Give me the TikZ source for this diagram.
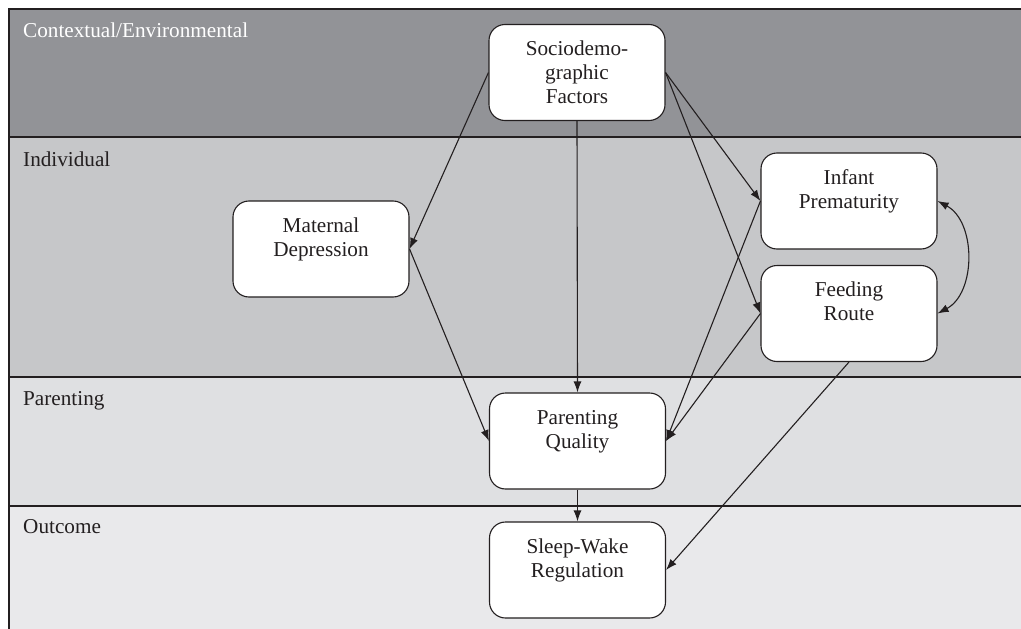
\documentclass[tikz,border=0pt]{standalone}
\usepackage{fontspec}
\setmainfont{Liberation Serif}
\usetikzlibrary{arrows.meta}

\definecolor{inkgray}{RGB}{35,31,32}
\definecolor{bandctx}{RGB}{146,147,151}
\definecolor{bandind}{RGB}{198,199,201}
\definecolor{bandpar}{RGB}{223,224,226}
\definecolor{bandout}{RGB}{233,233,235}

\tikzset{
  factor/.style={draw=inkgray, fill=white, text=inkgray, rounded corners=16pt, line width=1.1pt,
    minimum width=176pt, minimum height=96pt, inner sep=0pt, align=center,
    font=\fontsize{21.2}{24}\selectfont},
  link/.style={draw=inkgray, line width=1.1pt, -{Latex[length=11pt,width=8pt]}},
  bandlabel/.style={anchor=base west, inner sep=0pt, text=inkgray, font=\fontsize{21.2}{24}\selectfont},
  bandline/.style={draw=inkgray, line width=1.1pt}
}

\begin{document}
\begin{tikzpicture}[x=1pt,y=1pt]
\useasboundingbox (0,0) rectangle (1021,-629);
% bands
\fill[bandctx] (9,-9) rectangle (1021,-137);
\fill[bandind] (9,-137) rectangle (1021,-377);
\fill[bandpar] (9,-377) rectangle (1021,-506);
\fill[bandout] (9,-506) rectangle (1021,-629);
\draw[bandline] (1021,-9) -- (9,-9) -- (9,-629);
\draw[bandline] (9,-137) -- (1021,-137);
\draw[bandline] (9,-377) -- (1021,-377);
\draw[bandline] (9,-506) -- (1021,-506);
\node[bandlabel, text=white] (ctxlabel) at (23,-37) {Contextual/Environmental};
\node[bandlabel] (indlabel) at (23,-166) {Individual};
\node[bandlabel] (parlabel) at (23,-405) {Parenting};
\node[bandlabel] (outlabel) at (23,-533) {Outcome};
% factors
\node[factor] (socio) at (577,-72.5) {Sociodemo-\\graphic\\Factors};
\node[factor] (matdep) at (321,-249) {Maternal\\Depression\\~};
\node[factor] (prem) at (849,-201) {Infant\\Prematurity\\~};
\node[factor] (feed) at (849,-313.5) {Feeding\\Route\\~};
\node[factor] (parq) at (577.5,-441) {Parenting\\Quality\\~};
\node[factor] (sleep) at (577.5,-570) {Sleep-Wake\\Regulation\\~};
% paths
\draw[link] (socio.west) -- (matdep.east);
\draw[link] (socio.south) -- (parq.north);
\draw[link] (socio.east) -- (prem.west);
\draw[link] (socio.east) -- (feed.west);
\draw[link] (matdep.east) -- (parq.west);
\draw[link] (prem.west) -- (parq.east);
\draw[link] (feed.west) -- (parq.east);
\draw[link] (feed.south) -- (sleep.east);
\draw[link] (parq.south) -- (sleep.north);
\draw[link, {Latex[length=11pt,width=8pt]}-{Latex[length=11pt,width=8pt]}] (prem.east) to[bend left=62] (feed.east);
\end{tikzpicture}
\end{document}
